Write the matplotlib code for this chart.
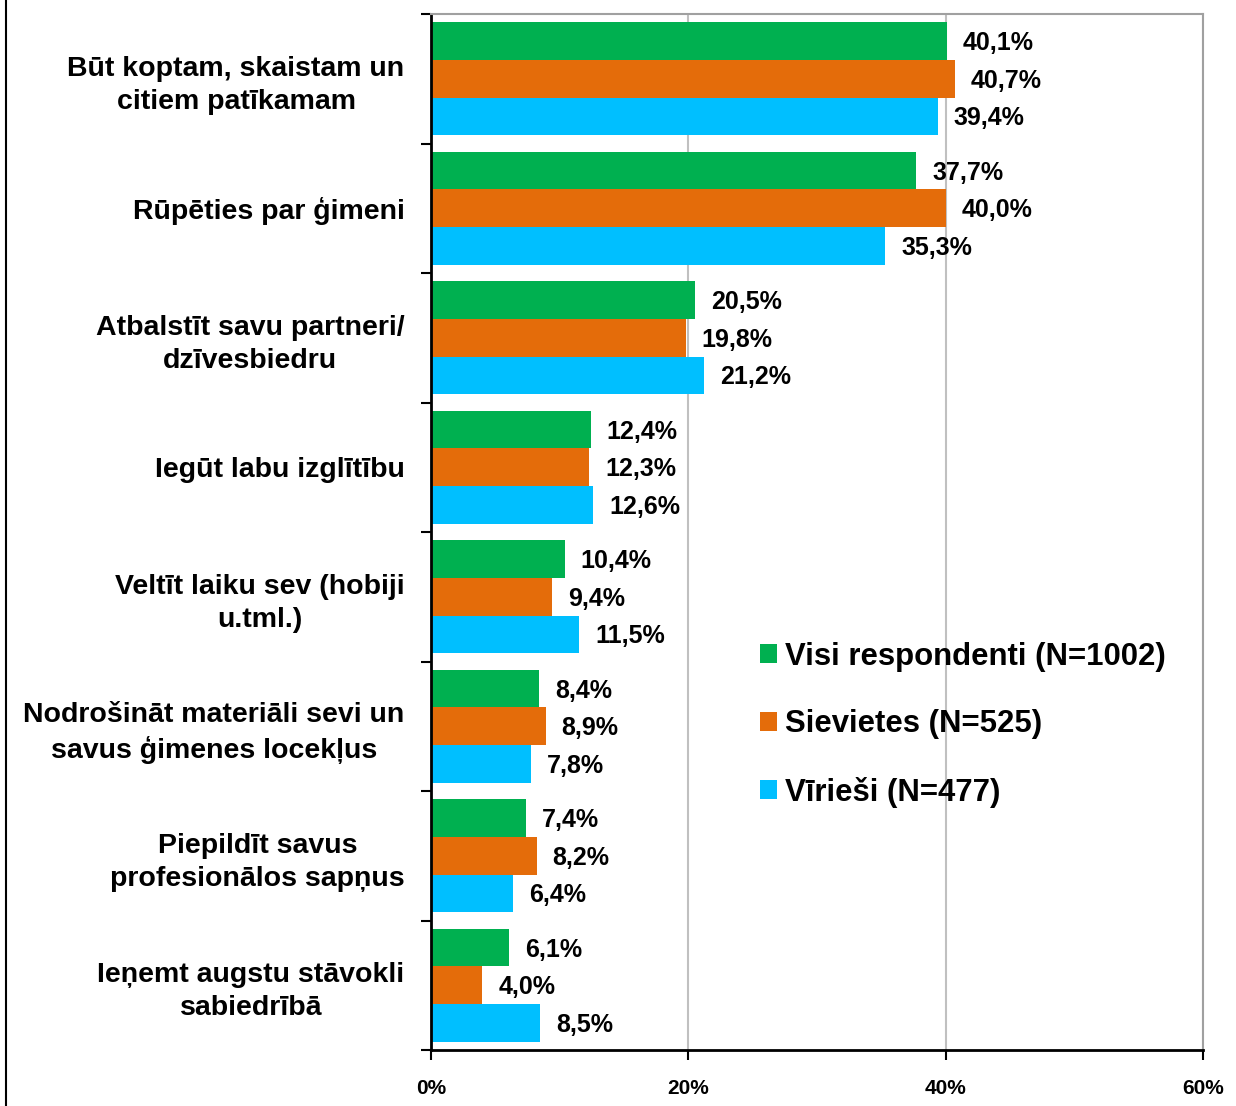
import matplotlib.pyplot as plt
from matplotlib.lines import Line2D
import numpy as np

plt.rcParams['font.family'] = ['Liberation Sans', 'DejaVu Sans']
plt.rcParams['font.weight'] = 'bold'

kategorijas = ["Būt koptam, skaistam un\ncitiem patīkamam",
               "Rūpēties par ģimeni",
               "Atbalstīt savu partneri/\ndzīvesbiedru",
               "Iegūt labu izglītību",
               "Veltīt laiku sev (hobiji\nu.tml.)",
               "Nodrošināt materiāli sevi un\nsavus ģimenes locekļus",
               "Piepildīt savus\nprofesionālos sapņus",
               "Ieņemt augstu stāvokli\nsabiedrībā"]
visi = [40.1, 37.7, 20.5, 12.4, 10.4, 8.4, 7.4, 6.1]
sievietes = [40.7, 40.0, 19.8, 12.3, 9.4, 8.9, 8.2, 4.0]
virieshi = [39.4, 35.3, 21.2, 12.6, 11.5, 7.8, 6.4, 8.5]
serijas = ["Visi respondenti (N=1002)", "Sievietes (N=525)", "Vīrieši (N=477)"]
krasas = ['#00b050', '#e46c0a', '#00bfff']

fig = plt.figure(figsize=(12.36, 11.06), dpi=100)
ax = fig.add_axes([431/1236, 1-1050/1106, (1203-431)/1236, (1050-14)/1106])

y = np.arange(len(kategorijas))
h = 0.29
for k, (vals, name, c) in enumerate(zip([visi, sievietes, virieshi], serijas, krasas)):
    pos = y + (k - 1) * h
    ax.barh(pos, vals, height=h, color=c, label=name)
    for p, v in zip(pos, vals):
        ax.annotate(f"{v:.1f}%".replace('.', ','), (v, p), xytext=(11.5, -1.5),
                    textcoords='offset points', va='center', ha='left',
                    fontsize=18, fontweight='bold')

ax.set_xlim(0, 60)
ax.set_ylim(len(kategorijas) - 0.5, -0.5)
ax.set_xticks([0, 20, 40, 60])
ax.set_xticklabels(["0%", "20%", "40%", "60%"], fontsize=15, fontweight='bold')
ax.tick_params(axis='x', length=7, width=1.5, pad=14, direction='out')
ax.set_yticks(y)
ax.set_yticklabels(kategorijas, fontsize=20.5, fontweight='bold', ma='center',
                   linespacing=1.35)
ax.tick_params(axis='y', which='major', length=0, pad=19)
ax.set_yticks(np.arange(len(kategorijas) + 1) - 0.5, minor=True)
ax.tick_params(axis='y', which='minor', length=7, width=1.5, direction='out')

ax.xaxis.grid(True, color='#c0c0c0', linewidth=1.5)
ax.set_axisbelow(True)
for s in ['left', 'bottom']:
    ax.spines[s].set_linewidth(2)
    ax.spines[s].set_color('black')
for s in ['top', 'right']:
    ax.spines[s].set_linewidth(1.5)
    ax.spines[s].set_color('#a0a0a0')

ax.legend(loc='center left', bbox_to_anchor=(0.426, 0.314), frameon=False,
          prop={'size': 22.4, 'weight': 'bold'}, handlelength=0.55, handleheight=0.55,
          handletextpad=0.26, labelspacing=1.2, borderpad=0, borderaxespad=0)

fig.add_artist(Line2D([6/1236, 6/1236], [0, 1], color='black', linewidth=1.5))

fig.savefig("out.png", dpi=100)
